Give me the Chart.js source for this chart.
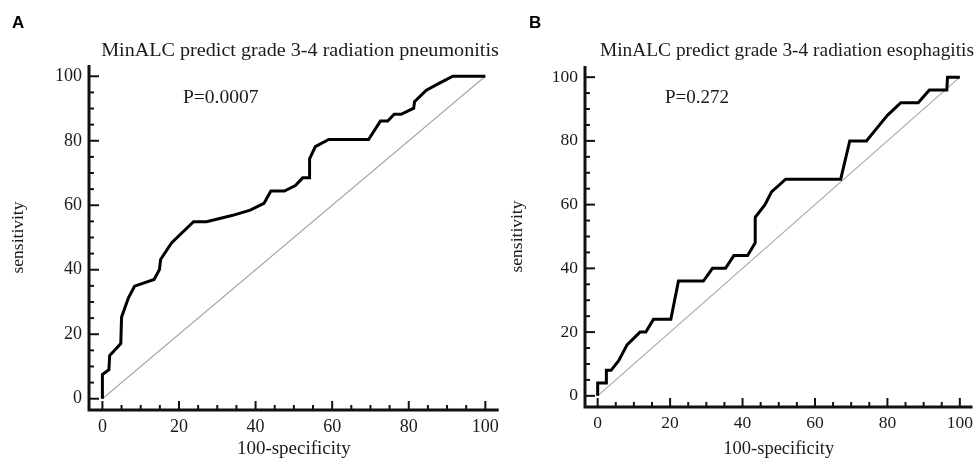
<!DOCTYPE html>
<html>
<head>
<meta charset="utf-8">
<script src="https://cdn.jsdelivr.net/npm/chart.js@4.4.1/dist/chart.umd.min.js"></script>
<style>
  html, body { margin: 0; padding: 0; background: #fff; }
  #wrap { position: relative; width: 979px; height: 458px; overflow: hidden; background: #fff; }
  canvas { position: absolute; top: 0; }
  .panel { position: absolute; font-family: "Liberation Sans", Arial, sans-serif; font-weight: bold; font-size: 17px; line-height: 17px; color: #000; }
  .ttl { position: absolute; font-family: "Liberation Serif", "Times New Roman", serif; font-size: 19px; line-height: 20px; text-align: center; color: #1a1a1a; white-space: nowrap; }
  .pv { position: absolute; font-family: "Liberation Serif", "Times New Roman", serif; font-size: 19.5px; line-height: 20px; color: #1a1a1a; white-space: nowrap; }
</style>
</head>
<body>
<div id="wrap">
  <canvas id="cA" width="505" height="458" style="left:0;width:505px;height:458px"></canvas>
  <canvas id="cB" width="489" height="458" style="left:490px;width:489px;height:458px"></canvas>
  <div class="panel" style="left:12px;top:14px">A</div>
  <div class="panel" style="left:529px;top:14px">B</div>
  <div class="ttl" style="left:100px;width:400px;top:40px;transform:scaleX(1.06)">MinALC predict grade 3-4 radiation pneumonitis</div>
  <div class="ttl" style="left:587px;width:400px;top:40px;transform:scaleX(1.02)">MinALC predict grade 3-4 radiation esophagitis</div>
  <div class="pv" style="left:183px;top:87px">P=0.0007</div>
  <div class="pv" style="left:665px;top:87px;font-size:19px">P=0.272</div>
</div>
<script>
// Panel A: MinALC predict grade 3-4 radiation pneumonitis (ROC curve)
const fprA  = [0,0,1.7,1.9,4.8,5.0,6.8,8.4,13.5,14.9,15.2,18.1,23.8,27.2,33.8,38.6,42.2,44.0,47.5,50.4,52.3,54.0,54.1,55.6,59.1,69.5,72.6,74.5,76.2,78.0,81.3,81.5,84.6,87.4,91.5,100];
const sensA = [0,7.5,9,13.4,17.1,25.3,31.3,34.9,37,40.1,43.2,48.4,54.9,54.9,56.8,58.5,60.6,64.4,64.4,66.1,68.5,68.5,74.4,78.2,80.4,80.4,86.1,86.1,88.2,88.2,90.1,92.1,95.7,97.5,100,100];
// Panel B: MinALC predict grade 3-4 radiation esophagitis (ROC curve)
const fprB  = [0,0,2.4,2.4,3.7,5.8,8.1,11.7,13.3,15.4,20.2,22.3,29.2,31.7,35.3,37.6,41.4,43.5,43.5,46.2,48.0,51.9,67.1,69.6,74.2,77.1,80.0,83.7,88.5,91.6,96.4,96.6,100];
const sensB = [0,4,4,8,8,11,16,20,20,24,24,36,36,40,40,44,44,48,56,60,64,68,68,80,80,84,88,92,92,96,96,100,100];
// Reference diagonal
const diagX = [0,100];
const diagY = [0,100];
// Tick labels
const tickLabels = [0,20,40,60,80,100];

const toPts = (xs, ys) => xs.map((x, i) => ({x: x, y: ys[i]}));

const axesPlugin = {
  id: 'inwardAxes',
  afterDatasetsDraw(chart) {
    const ctx = chart.ctx;
    const a = chart.chartArea;
    const xs = chart.scales.x, ys = chart.scales.y;
    ctx.save();
    ctx.strokeStyle = '#111';
    ctx.lineCap = 'butt';
    ctx.lineWidth = 2;
    xs.ticks.forEach(t => {
      const px = xs.getPixelForValue(t.value);
      const len = tickLabels.includes(t.value) ? 9 : 5;
      ctx.beginPath(); ctx.moveTo(px, a.bottom); ctx.lineTo(px, a.bottom - len); ctx.stroke();
    });
    ys.ticks.forEach(t => {
      const py = ys.getPixelForValue(t.value);
      const len = tickLabels.includes(t.value) ? 10 : 5;
      ctx.beginPath(); ctx.moveTo(a.left, py); ctx.lineTo(a.left + len, py); ctx.stroke();
    });
    ctx.lineWidth = 3;
    ctx.beginPath();
    ctx.moveTo(a.left, a.top);
    ctx.lineTo(a.left, a.bottom);
    ctx.lineTo(a.right, a.bottom);
    ctx.stroke();
    ctx.restore();
  }
};

function makeChart(id, fpr, sens, cfg) {
  const serif = '"Liberation Serif", "Times New Roman", serif';
  return new Chart(document.getElementById(id), {
    type: 'scatter',
    data: {
      datasets: [
        { data: toPts(diagX, diagY), showLine: true, borderColor: '#a8a8a8', borderWidth: 1.2, pointRadius: 0, tension: 0, order: 2 },
        { data: toPts(fpr, sens), showLine: true, borderColor: '#000', borderWidth: 3, pointRadius: 0, tension: 0, borderJoinStyle: 'miter', order: 1 }
      ]
    },
    options: {
      responsive: false,
      animation: false,
      events: [],
      layout: { padding: { left: 0, right: cfg.padRight, top: cfg.padTop, bottom: 0 } },
      plugins: { legend: { display: false }, tooltip: { enabled: false }, title: { display: false } },
      scales: {
        x: {
          type: 'linear', min: -3.5, max: 103.5,
          grid: { display: false, drawTicks: false },
          border: { display: false },
          ticks: {
            stepSize: 5, includeBounds: false, autoSkip: false, maxRotation: 0, padding: 6,
            color: '#1a1a1a', font: { family: serif, size: cfg.tickSize },
            callback: v => tickLabels.includes(v) ? String(v) : ''
          },
          title: { display: true, text: '100-specificity', color: '#1a1a1a', font: { family: serif, size: cfg.xTitleSize, lineHeight: 1 }, padding: { top: 0, bottom: cfg.xTitleBottom } },
          afterFit: s => { s.height = cfg.xHeight; }
        },
        y: {
          type: 'linear', min: -3.5, max: 103.5,
          grid: { display: false, drawTicks: false },
          border: { display: false },
          ticks: {
            stepSize: 5, includeBounds: false, autoSkip: false, padding: 7,
            color: '#1a1a1a', font: { family: serif, size: cfg.tickSize },
            callback: v => tickLabels.includes(v) ? String(v) : ''
          },
          title: { display: true, text: 'sensitivity', color: '#1a1a1a', font: { family: serif, size: 17.5, lineHeight: 1.2 }, padding: { top: cfg.yTitleTop, bottom: 0 } },
          afterFit: s => { s.width = cfg.yWidth; }
        }
      }
    },
    plugins: [axesPlugin]
  });
}

makeChart('cA', fprA, sensA, { padRight: 5, padTop: 65, xHeight: 48, yWidth: 89, yTitleTop: 8, xTitleBottom: -1, tickSize: 18, xTitleSize: 19 });
makeChart('cB', fprB, sensB, { padRight: 1, padTop: 66, xHeight: 51, yWidth: 95, yTitleTop: 17, xTitleBottom: 0, tickSize: 17.5, xTitleSize: 18.5 });
</script>
</body>
</html>
